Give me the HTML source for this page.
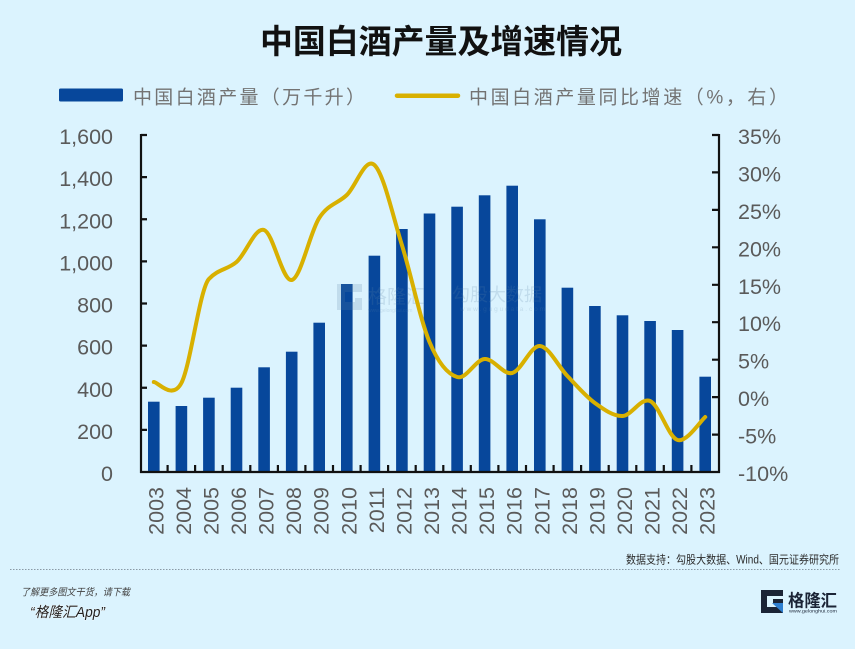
<!DOCTYPE html>
<html>
<head>
<meta charset="utf-8">
<style>
  html,body{margin:0;padding:0;background:#dbf3fe;}
  svg{display:block;}
  .num{font-family:"Liberation Sans",Arial,sans-serif;font-size:21.5px;fill:#5a5a5a;}
  .cjk{font-family:"Liberation Sans","Noto Sans CJK SC",sans-serif;}
</style>
</head>
<body>
<svg width="855" height="649" viewBox="0 0 855 649" xmlns="http://www.w3.org/2000/svg">
  <rect x="0" y="0" width="855" height="649" fill="#dbf3fe"/>

  <!-- Title -->
  <text x="441" y="53" text-anchor="middle" class="cjk" font-size="33" font-weight="bold" fill="#111" textLength="362" lengthAdjust="spacingAndGlyphs">中国白酒产量及增速情况</text>

  <!-- Legend -->
  <rect x="59" y="88.5" width="64" height="13" rx="1.5" fill="#07479b"/>
  <text x="133" y="103.5" class="cjk" font-size="19" fill="#737373" textLength="232" lengthAdjust="spacing">中国白酒产量（万千升）</text>
  <line x1="397" y1="95.7" x2="458" y2="95.7" stroke="#d8b000" stroke-width="4.5" stroke-linecap="round"/>
  <text x="469" y="103.5" class="cjk" font-size="19" fill="#737373" textLength="319" lengthAdjust="spacing">中国白酒产量同比增速（%，右）</text>

  <!-- Bars -->
  <g fill="#07479b">
    <rect x="148.0" y="401.7" width="11.6" height="70.3"/>
    <rect x="175.6" y="406.0" width="11.6" height="66.0"/>
    <rect x="203.1" y="397.7" width="11.6" height="74.3"/>
    <rect x="230.7" y="387.7" width="11.6" height="84.3"/>
    <rect x="258.3" y="367.3" width="11.6" height="104.7"/>
    <rect x="285.9" y="351.7" width="11.6" height="120.3"/>
    <rect x="313.4" y="322.7" width="11.6" height="149.3"/>
    <rect x="341.0" y="284.0" width="11.6" height="188.0"/>
    <rect x="368.6" y="255.7" width="11.6" height="216.3"/>
    <rect x="396.1" y="229.0" width="11.6" height="243.0"/>
    <rect x="423.7" y="213.5" width="11.6" height="258.5"/>
    <rect x="451.3" y="206.7" width="11.6" height="265.3"/>
    <rect x="478.8" y="195.3" width="11.6" height="276.7"/>
    <rect x="506.4" y="185.7" width="11.6" height="286.3"/>
    <rect x="534.0" y="219.3" width="11.6" height="252.7"/>
    <rect x="561.6" y="287.7" width="11.6" height="184.3"/>
    <rect x="589.1" y="306.0" width="11.6" height="166.0"/>
    <rect x="616.7" y="315.3" width="11.6" height="156.7"/>
    <rect x="644.3" y="321.0" width="11.6" height="151.0"/>
    <rect x="671.8" y="330.0" width="11.6" height="142.0"/>
    <rect x="699.4" y="376.7" width="11.6" height="95.3"/>
  </g>

  <!-- Watermark -->
  <g opacity="0.2">
    <path d="M337 284 h25 v8 h-17 v10 h10 v-4 h7 v12 h-25 z" fill="#5f86a8"/>
    <text x="368" y="303" class="cjk" font-size="19" fill="#5f86a8">格隆汇</text>
    <text x="368" y="312" font-family="Liberation Sans,sans-serif" font-size="5" fill="#5f86a8">www.gelonghui.com</text>
    <text x="452" y="301" class="cjk" font-size="18" fill="#5f86a8" textLength="90" lengthAdjust="spacing">勾股大数据</text>
    <text x="460" y="311" font-family="Liberation Sans,sans-serif" font-size="6.5" fill="#5f86a8" textLength="85" lengthAdjust="spacing">www.gugudata.com</text>
  </g>

  <!-- Growth line -->
  <path fill="none" stroke="#d8b000" stroke-width="4" stroke-linecap="round" stroke-linejoin="round"
    d="M153.8 382
       C158.4 382.17 172.2 400.5 181.4 383
       C190.6 365.5 199.7 289 208.9 279
       C218.1 269 227.3 269.83 236.5 262
       C245.7 254.17 254.9 227 264.1 230
       C273.3 233 282.5 282 291.7 280
       C300.9 278 310.0 232.17 319.2 218
       C328.4 203.83 337.6 203.83 346.8 195
       C356.0 186.17 365.2 156.67 374.4 165
       C383.6 173.33 392.7 215.5 401.9 245
       C411.1 274.5 420.3 320 429.5 342
       C438.7 364 447.9 374.17 457.1 377
       C466.3 379.83 475.4 359.67 484.6 359
       C493.8 358.33 503.0 375.17 512.2 373
       C521.4 370.83 530.6 345.5 539.8 346
       C549.0 346.5 558.2 366.5 567.4 376
       C576.6 385.5 585.7 396.33 594.9 403
       C604.1 409.67 613.3 416.33 622.5 416
       C631.7 415.67 640.9 397 650.1 401
       C659.3 405 668.4 437.33 677.6 440
       C686.8 442.67 700.6 420.83 705.2 417"/>

  <!-- Axes -->
  <g stroke="#111" stroke-width="2.2" fill="none">
    <line x1="141" y1="134" x2="141" y2="473"/>
    <line x1="719" y1="134" x2="719" y2="473"/>
    <line x1="140" y1="472" x2="720" y2="472"/>
    <path d="M141 135 h6 M141 177.1 h6 M141 219.25 h6 M141 261.4 h6 M141 303.5 h6 M141 345.6 h6 M141 387.75 h6 M141 429.9 h6"/>
    <path d="M719 135 h-7 M719 172.4 h-7 M719 209.9 h-7 M719 247.3 h-7 M719 284.8 h-7 M719 322.2 h-7 M719 359.7 h-7 M719 397.1 h-7 M719 434.6 h-7"/>
    <path d="M167.6 472 v-7 M195.1 472 v-7 M222.7 472 v-7 M250.3 472 v-7 M277.9 472 v-7 M305.4 472 v-7 M333.0 472 v-7 M360.6 472 v-7 M388.1 472 v-7 M415.7 472 v-7 M443.3 472 v-7 M470.8 472 v-7 M498.4 472 v-7 M526.0 472 v-7 M553.6 472 v-7 M581.1 472 v-7 M608.7 472 v-7 M636.3 472 v-7 M663.8 472 v-7 M691.4 472 v-7"/>
  </g>

  <!-- Left labels -->
  <g class="num" text-anchor="end">
    <text x="113" y="144">1,600</text>
    <text x="113" y="186.1">1,400</text>
    <text x="113" y="228.25">1,200</text>
    <text x="113" y="270.4">1,000</text>
    <text x="113" y="312.5">800</text>
    <text x="113" y="354.6">600</text>
    <text x="113" y="396.75">400</text>
    <text x="113" y="438.9">200</text>
    <text x="113" y="481">0</text>
  </g>

  <!-- Right labels -->
  <g class="num">
    <text x="738" y="144">35%</text>
    <text x="738" y="181.4">30%</text>
    <text x="738" y="218.9">25%</text>
    <text x="738" y="256.3">20%</text>
    <text x="738" y="293.8">15%</text>
    <text x="738" y="331.2">10%</text>
    <text x="738" y="368.7">5%</text>
    <text x="738" y="406.1">0%</text>
    <text x="738" y="443.6">-5%</text>
    <text x="738" y="481">-10%</text>
  </g>

  <!-- X labels -->
  <g class="num" text-anchor="end">
    <text transform="translate(163.3,487) rotate(-90)">2003</text>
    <text transform="translate(190.9,487) rotate(-90)">2004</text>
    <text transform="translate(218.4,487) rotate(-90)">2005</text>
    <text transform="translate(246.0,487) rotate(-90)">2006</text>
    <text transform="translate(273.6,487) rotate(-90)">2007</text>
    <text transform="translate(301.2,487) rotate(-90)">2008</text>
    <text transform="translate(328.7,487) rotate(-90)">2009</text>
    <text transform="translate(356.3,487) rotate(-90)">2010</text>
    <text transform="translate(383.9,487) rotate(-90)">2011</text>
    <text transform="translate(411.4,487) rotate(-90)">2012</text>
    <text transform="translate(439.0,487) rotate(-90)">2013</text>
    <text transform="translate(466.6,487) rotate(-90)">2014</text>
    <text transform="translate(494.1,487) rotate(-90)">2015</text>
    <text transform="translate(521.7,487) rotate(-90)">2016</text>
    <text transform="translate(549.3,487) rotate(-90)">2017</text>
    <text transform="translate(576.9,487) rotate(-90)">2018</text>
    <text transform="translate(604.4,487) rotate(-90)">2019</text>
    <text transform="translate(632.0,487) rotate(-90)">2020</text>
    <text transform="translate(659.6,487) rotate(-90)">2021</text>
    <text transform="translate(687.1,487) rotate(-90)">2022</text>
    <text transform="translate(714.7,487) rotate(-90)">2023</text>
  </g>

  <!-- Source -->
  <text x="626" y="563.5" class="cjk" font-size="11.5" fill="#2b2b2b" textLength="213" lengthAdjust="spacingAndGlyphs">数据支持：勾股大数据、Wind、国元证券研究所</text>
  <line x1="10" y1="569.5" x2="840" y2="569.5" stroke="#8a9aa6" stroke-width="1" stroke-dasharray="1.5,1.5"/>

  <!-- Footer -->
  <text x="21" y="595.5" class="cjk" font-size="10" font-style="italic" fill="#444" textLength="109" lengthAdjust="spacingAndGlyphs">了解更多图文干货，请下载</text>
  <text x="30" y="617" class="cjk" font-size="14.5" font-style="italic" fill="#222" stroke="#fff" stroke-width="0.6" paint-order="stroke" textLength="75" lengthAdjust="spacingAndGlyphs">“格隆汇App”</text>

  <!-- Logo -->
  <path d="M761 590 h22 v6 h-16 v11 h10 v-4 h-4 v-4 h10 v14 h-22 z" fill="#1b2436"/>
  <path d="M772 603 h11 v10 z" fill="#2f7fd0"/>
  <text x="788" y="606.5" class="cjk" font-size="17" font-weight="bold" fill="#1b2436" textLength="49" lengthAdjust="spacingAndGlyphs">格隆汇</text>
  <text x="789" y="612.5" font-family="Liberation Sans,sans-serif" font-size="4.5" fill="#1b2436" textLength="48" lengthAdjust="spacingAndGlyphs">www.gelonghui.com</text>
</svg>
</body>
</html>
